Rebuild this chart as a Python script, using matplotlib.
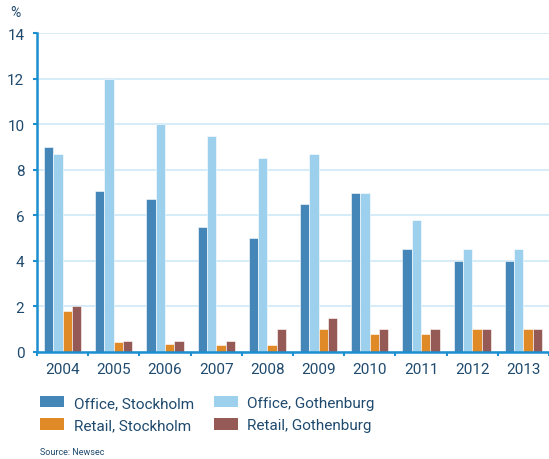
import matplotlib
matplotlib.use("Agg")
import matplotlib.pyplot as plt
import numpy as np
from matplotlib.patches import Patch

years = ["2004", "2005", "2006", "2007", "2008", "2009", "2010", "2011", "2012", "2013"]
office_stockholm = [9.0, 7.05, 6.7, 5.5, 5.0, 6.5, 7.0, 4.5, 4.0, 4.0]
office_gothenburg = [8.7, 12.0, 10.0, 9.5, 8.5, 8.7, 7.0, 5.8, 4.5, 4.5]
retail_stockholm = [1.8, 0.42, 0.33, 0.3, 0.3, 1.0, 0.8, 0.8, 1.0, 1.0]
retail_gothenburg = [2.0, 0.5, 0.5, 0.5, 1.0, 1.5, 1.0, 1.0, 1.0, 1.0]
series_names = ["Office, Stockholm", "Office, Gothenburg", "Retail, Stockholm", "Retail, Gothenburg"]
y_ticks = [0, 2, 4, 6, 8, 10, 12, 14]

colors = ["#4486b8", "#9dd0ec", "#e08a27", "#955a55"]
text_color = "#1f4a6e"
spine_color = "#1b8fcf"
grid_color = "#cfe9f8"

plt.rcParams["font.family"] = ["Roboto", "DejaVu Sans"]

fig = plt.figure(figsize=(5.49, 4.60), dpi=100)
ax = fig.add_axes([37 / 549, 1 - 353 / 460, 512 / 549, 319 / 460])

x = np.arange(len(years))
w = 0.182
series = [office_stockholm, office_gothenburg, retail_stockholm, retail_gothenburg]
for i, (vals, c) in enumerate(zip(series, colors)):
    ax.bar(x + (i - 1.5) * w, vals, width=w, color=c, edgecolor="white",
           linewidth=0.4, zorder=3)

ax.set_xlim(-0.5, len(years) - 0.5)
ax.set_ylim(0, 14)
ax.set_yticks(y_ticks)
ax.set_yticklabels([str(t) for t in y_ticks])
ax.grid(axis="y", color=grid_color, linewidth=1.2, zorder=0)
ax.set_xticks(x)
ax.set_xticklabels(years)
ax.set_xticks(np.arange(len(years) + 1) - 0.5, minor=True)
ax.tick_params(axis="x", which="major", length=0, pad=7, labelsize=11, labelcolor=text_color)
ax.tick_params(axis="x", which="minor", length=3, width=1.5, color=spine_color, direction="out")
ax.tick_params(axis="y", length=3, width=1.5, color=spine_color, pad=6, labelsize=11,
               labelcolor=text_color)

for s in ["top", "right"]:
    ax.spines[s].set_visible(False)
for s in ["left", "bottom"]:
    ax.spines[s].set_color(spine_color)
    ax.spines[s].set_linewidth(1.8)
    ax.spines[s].set_zorder(4)

fig.text(15 / 549, 1 - 13 / 460, "%", color=text_color, fontsize=10, va="center", ha="center")

# two columns filled row by row: offices on the first row, retail on the second
order = [0, 2, 1, 3]
handles = [Patch(facecolor=colors[i], edgecolor="none") for i in order]
labels = [series_names[i] for i in order]
leg = fig.legend(handles, labels, ncol=2, loc="upper left",
                 bbox_to_anchor=(40 / 549, 1 - 397 / 460), frameon=False, borderpad=0,
                 borderaxespad=0, fontsize=11, handlelength=1.6, handleheight=0.75,
                 handletextpad=0.6, columnspacing=1.3, labelspacing=0.55)
for t in leg.get_texts():
    t.set_color(text_color)

fig.text(40 / 549, 1 - 453 / 460, "Source: Newsec", color=text_color, fontsize=6.5,
         va="center", ha="left")

fig.savefig("out.png", dpi=100)
